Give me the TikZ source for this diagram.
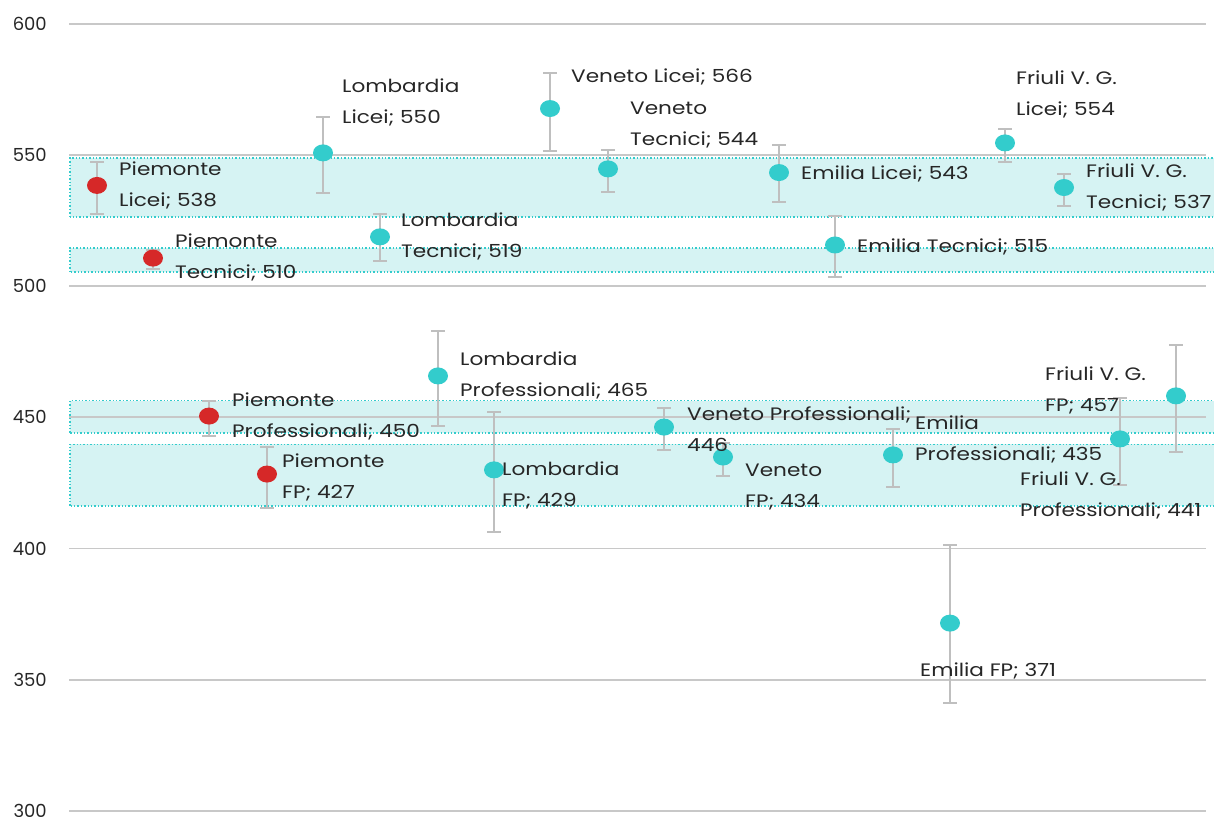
\documentclass[tikz,border=0pt]{standalone}
\usepackage{fontspec}
\setmainfont{Poppins}
\newfontfamily\labelfont[FakeStretch=1.2]{Poppins}
\usetikzlibrary{shapes.geometric}

\definecolor{tealdot}{HTML}{33CCCC}
\definecolor{reddot}{HTML}{D62828}
\definecolor{bandfill}{HTML}{D6F3F3}
\definecolor{gridgray}{HTML}{C8C8C8}
\definecolor{bargray}{HTML}{BFBFBF}
\definecolor{txt}{HTML}{262626}

\tikzset{
  gridline/.style={draw=gridgray, line width=1.8pt},
  band/.style={fill=bandfill, draw=tealdot, line width=1.4pt, dotted},
  errbar/.style={draw=bargray, line width=1.8pt},
  dot/.style={ellipse, minimum width=20pt, minimum height=17pt, inner sep=0pt},
  lbl/.style={anchor=west, align=left, inner sep=0pt, text=txt,
              font=\labelfont\fontsize{18}{31}\selectfont},
  axlbl/.style={anchor=east, inner sep=0pt, text=txt,
                font=\fontsize{18}{22}\selectfont}
}

% name, x position, mean, lower bound, upper bound, colour
\newcommand\datapoint[6]{%
  \draw[errbar] (#2,#4) -- (#2,#5);
  \draw[errbar] (#2-7,#4) -- (#2+7,#4);
  \draw[errbar] (#2-7,#5) -- (#2+7,#5);
  \node[dot, fill=#6] (#1) at (#2,#3) {};
}

\begin{document}
\begin{tikzpicture}[x=1pt, y=2.624pt]
\useasboundingbox (0,298.095) rectangle (1214,609.07);

% reference bands
\path[band] (70,526.4) rectangle (1220,548.9);
\path[band] (70,505.4) rectangle (1220,514.6);
\path[band] (70,444.1) rectangle (1220,456.4);
\path[band] (70,416.3) rectangle (1220,439.7);

% grid and axis labels
\foreach \v in {300,350,...,600} {
  \draw[gridline] (69,\v) -- (1206,\v);
  \node[axlbl] (ax\v) at (47,\v) {\v};
}

% Licei / Tecnici
\datapoint{pLic}{97}{538.4}{527.5}{547.3}{reddot}
\datapoint{pTec}{153}{510.7}{506.6}{513.8}{reddot}
\datapoint{lLic}{323}{550.8}{535.5}{564.5}{tealdot}
\datapoint{lTec}{380}{518.8}{509.6}{527.5}{tealdot}
\datapoint{vLic}{550}{567.7}{551.5}{581.3}{tealdot}
\datapoint{vTec}{608}{544.7}{535.9}{551.9}{tealdot}
\datapoint{eLic}{779}{543.3}{532.1}{553.8}{tealdot}
\datapoint{eTec}{835}{515.7}{503.5}{526.8}{tealdot}
\datapoint{fLic}{1005}{554.6}{547.3}{559.9}{tealdot}
\datapoint{fTec}{1064}{537.6}{530.6}{542.8}{tealdot}

% Professionali / FP
\datapoint{pPro}{209}{450.5}{442.9}{456.2}{reddot}
\datapoint{pFP}{267}{428.4}{415.5}{438.7}{reddot}
\datapoint{lPro}{438}{465.8}{446.7}{482.9}{tealdot}
\datapoint{lFP}{494}{430}{406.3}{452.1}{tealdot}
\datapoint{vPro}{664}{446.3}{437.6}{453.6}{tealdot}
\datapoint{vFP}{723}{434.9}{427.7}{440.2}{tealdot}
\datapoint{ePro}{893}{435.7}{423.5}{445.6}{tealdot}
\datapoint{eFP}{950}{371.6}{341.2}{401.4}{tealdot}
\datapoint{fPro}{1120}{441.8}{424.2}{457.4}{tealdot}
\datapoint{fFP}{1176}{458.2}{436.8}{477.6}{tealdot}

% data labels
\node[lbl] (tpLic) at (119,538.4) {Piemonte\\Licei; 538};
\node[lbl] (tpTec) at (175,511.1) {Piemonte\\Tecnici; 510};
\node[lbl] (tlLic) at (342,570.2) {Lombardia\\Licei; 550};
\node[lbl] (tlTec) at (401,518.8) {Lombardia\\Tecnici; 519};
\node[lbl] (tvLic) at (571,579.6) {Veneto Licei; 566};
\node[lbl] (tvTec) at (630,561.6) {Veneto\\Tecnici; 544};
\node[lbl] (teLic) at (801,542.9) {Emilia Licei; 543};
\node[lbl] (teTec) at (857,515.1) {Emilia Tecnici; 515};
\node[lbl] (tfLic) at (1016,573.0) {Friuli V. G.\\Licei; 554};
\node[lbl] (tfTec) at (1086,537.6) {Friuli V. G.\\Tecnici; 537};

\node[lbl] (tpPro) at (232,450.5) {Piemonte\\Professionali; 450};
\node[lbl] (tpFP)  at (282,427.3) {Piemonte\\FP; 427};
\node[lbl] (tlPro) at (460,465.8) {Lombardia\\Professionali; 465};
\node[lbl] (tlFP)  at (502,424.0) {Lombardia\\FP; 429};
\node[lbl] (tvPro) at (687,445.6) {Veneto Professionali;\\446};
\node[lbl] (tvFP)  at (745,423.3) {Veneto\\FP; 434};
\node[lbl] (tePro) at (915,441.6) {Emilia\\Professionali; 435};
\node[lbl] (teFP)  at (920,353.5) {Emilia FP; 371};
\node[lbl] (tfPro) at (1020,420.4) {Friuli V. G.\\Professionali; 441};
\node[lbl] (tfFP)  at (1045,460.1) {Friuli V. G.\\FP; 457};
\end{tikzpicture}
\end{document}
